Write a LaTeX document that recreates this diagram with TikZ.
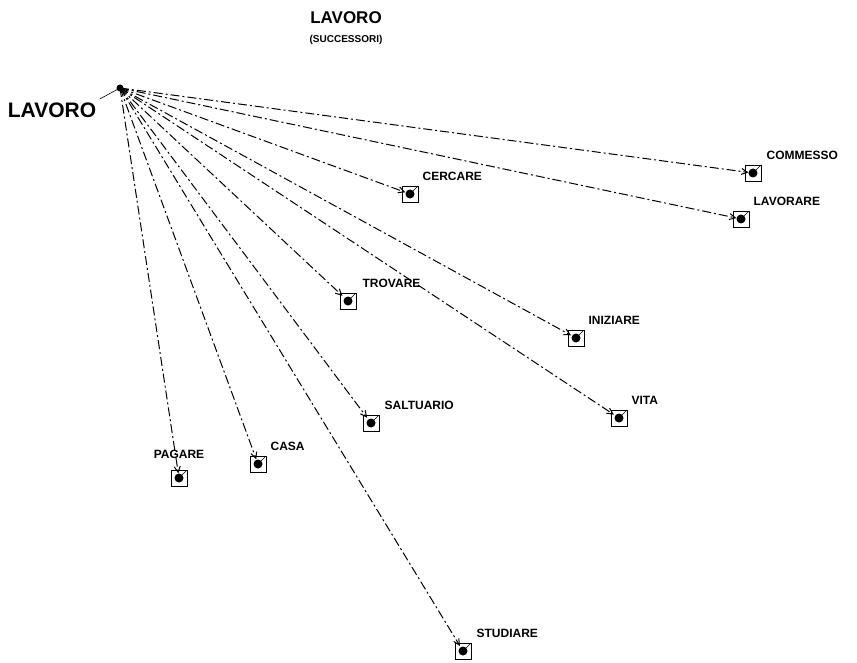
\documentclass[tikz,border=0pt]{standalone}
\usepackage{fontspec}
\setmainfont{Liberation Sans}
\usetikzlibrary{positioning,arrows.meta}
\tikzset{
  tgt/.style={draw,line width=0.9pt,minimum size=16pt,inner sep=0pt,
    path picture={\fill (path picture bounding box.center) circle (4.5pt);
      \draw[line width=0.6pt] (path picture bounding box.center)--(path picture bounding box.north east);}},
  lbl/.style={font=\bfseries\fontsize{12}{12}\selectfont,inner sep=1pt},
  succ/.style={line width=1pt,dash pattern=on 9pt off 3pt on 2pt off 3pt,
    -{Straight Barb[length=6pt,width=6pt]},shorten >=-4pt}
}
\begin{document}
\begin{tikzpicture}[x=1pt,y=-1pt]
            \useasboundingbox(0,0)rectangle(857,663);
            \node[font=\bfseries\fontsize{17}{17}\selectfont](title)at(346,18){LAVORO};
            \node[font=\bfseries\fontsize{10}{10}\selectfont,below=4pt of title](sub){(SUCCESSORI)};
            \coordinate(src)at(120,88);
            \fill(src)circle(3.5pt);
            \node[font=\bfseries\fontsize{21}{21}\selectfont](lavoro)at(52,110){LAVORO};
            \draw[line width=0.6pt](lavoro.north east)--(src);
            % successori
            \node[tgt](commesso)at(753,173){};
            \node[tgt](lavorare)at(741,219){};
            \node[tgt](cercare)at(410,194){};
            \node[tgt](trovare)at(348,301){};
            \node[tgt](iniziare)at(576,338){};
            \node[tgt](vita)at(619,418){};
            \node[tgt](saltuario)at(371,423){};
            \node[tgt](casa)at(258,464){};
            \node[tgt](pagare)at(179,478){};
            \node[tgt](studiare)at(463,651){};
            \node[lbl,anchor=south west]at([xshift=4pt,yshift=4pt]commesso.north east){COMMESSO};
            \node[lbl,anchor=south west]at([xshift=3pt,yshift=4pt]lavorare.north east){LAVORARE};
            \node[lbl,anchor=south west]at([xshift=3pt,yshift=4pt]cercare.north east){CERCARE};
            \node[lbl,anchor=south west]at([xshift=5pt,yshift=4pt]trovare.north east){TROVARE};
            \node[lbl,anchor=south west]at([xshift=3pt,yshift=4pt]iniziare.north east){INIZIARE};
            \node[lbl,anchor=south west]at([xshift=3pt,yshift=4pt]vita.north east){VITA};
            \node[lbl,anchor=south west]at([xshift=4pt,yshift=4pt]saltuario.north east){SALTUARIO};
            \node[lbl,anchor=south west]at([xshift=3pt,yshift=4pt]casa.north east){CASA};
            \node[lbl,above=10pt of pagare]{PAGARE};
            \node[lbl,anchor=south west]at([xshift=4pt,yshift=4pt]studiare.north east){STUDIARE};
            \foreach \t in {commesso,lavorare,cercare,trovare,iniziare,vita,saltuario,casa,pagare,studiare}
              \draw[succ](src)--(\t);
        \end{tikzpicture}
\end{document}
